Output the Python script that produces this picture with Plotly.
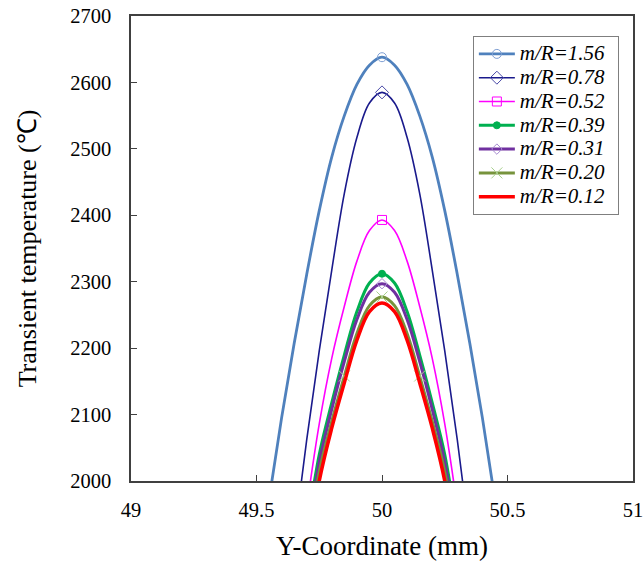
import plotly.graph_objects as go

# ---- data ----
y_coord = [49.50, 49.55, 49.60, 49.65, 49.70, 49.75, 49.80, 49.85, 49.90, 49.95, 50.00,
           50.05, 50.10, 50.15, 50.20, 50.25, 50.30, 50.35, 50.40, 50.45, 50.50]

t_156 = [1840, 1972, 2095, 2207, 2311, 2407, 2488, 2550, 2597, 2626, 2638,
         2626, 2597, 2550, 2488, 2407, 2311, 2207, 2095, 1972, 1840]
t_078 = [1440, 1600, 1760, 1913, 2062, 2196, 2318, 2433, 2517, 2569, 2585,
         2569, 2517, 2433, 2318, 2196, 2062, 1913, 1760, 1600, 1440]
t_052 = [1400, 1540, 1680, 1820, 1961, 2086, 2185, 2263, 2331, 2377, 2393,
         2377, 2331, 2263, 2185, 2086, 1961, 1820, 1680, 1540, 1400]
t_039 = [1380, 1520, 1655, 1790, 1925, 2040, 2118, 2190, 2255, 2298, 2312,
         2298, 2255, 2190, 2118, 2040, 1925, 1790, 1655, 1520, 1380]
t_031 = [1365, 1500, 1640, 1775, 1910, 2028, 2108, 2180, 2243, 2284, 2297,
         2284, 2243, 2180, 2108, 2028, 1910, 1775, 1640, 1500, 1365]
t_020 = [1350, 1485, 1625, 1760, 1895, 2014, 2090, 2158, 2222, 2264, 2277,
         2264, 2222, 2158, 2090, 2014, 1895, 1760, 1625, 1485, 1350]
t_012 = [1335, 1470, 1610, 1745, 1880, 2000, 2080, 2148, 2212, 2255, 2268,
         2255, 2212, 2148, 2080, 2000, 1880, 1745, 1610, 1470, 1335]

labels = ["m/R=1.56", "m/R=0.78", "m/R=0.52", "m/R=0.39", "m/R=0.31", "m/R=0.20", "m/R=0.12"]
series = [t_156, t_078, t_052, t_039, t_031, t_020, t_012]
# indices of the points that carry a marker
marker_idx = [[10], [10], [10], [10], [10], [7, 10, 13], []]

x_ticks = [49, 49.5, 50, 50.5, 51]
x_tick_text = ["49", "49.5", "50", "50.5", "51"]
y_ticks = [2000, 2100, 2200, 2300, 2400, 2500, 2600, 2700]

# ---- styles ----
line_colors = ["#4F81BD", "#1A1A8C", "#FF00FF", "#00B050", "#7030A0", "#77933C", "#FF0000"]
line_widths = [2.8, 1.6, 1.6, 3, 3, 3, 3.5]
m_symbols = ["circle-open", "diamond-open", "square-open", "circle", "diamond-open", "x-thin-open", None]
m_colors = ["#7F9FD3", "#4A4AA8", "#FF00FF", "#00B050", "#A68BD0", "#A8D08D", "#FF0000"]
m_sizes = [9, 10, 9, 7, 8, 11, 0]

fig = go.Figure()
for i, (lab, ys) in enumerate(zip(labels, series)):
    fig.add_trace(go.Scatter(
        x=y_coord, y=ys, mode="lines", line=dict(color=line_colors[i], width=line_widths[i], shape="spline", smoothing=1),
        showlegend=False, hoverinfo="skip"))
    mx, my = [], []
    for j in marker_idx[i]:
        if mx:
            mx.append(None); my.append(None)
        mx.append(y_coord[j]); my.append(ys[j])
    shown = '<span style="font-size:21px">' + lab + '</span>\u00a0\u00a0'
    if m_symbols[i] is None:
        fig.add_trace(go.Scatter(x=[None], y=[None], mode="lines", name=shown,
                                 line=dict(color=line_colors[i], width=line_widths[i])))
    else:
        fig.add_trace(go.Scatter(
            x=mx, y=my, mode="lines+markers", name=shown, connectgaps=False,
            line=dict(color=line_colors[i], width=line_widths[i]),
            marker=dict(symbol=m_symbols[i], size=m_sizes[i], color=m_colors[i],
                        line=dict(color=m_colors[i], width=1))))

serif = "Liberation Serif"
fig.update_layout(
    template="none",
    width=643, height=568,
    margin=dict(l=131, r=10, t=16, b=87, autoexpand=False),
    paper_bgcolor="white", plot_bgcolor="white",
    font=dict(family=serif, color="black"),
    showlegend=True,
    legend=dict(x=0.681, y=0.957, xanchor="left", yanchor="top",
                bordercolor="#7F7F7F", borderwidth=1, bgcolor="white",
                font=dict(family=serif, size=16, color="black", style="italic"),
                tracegroupgap=0, itemwidth=36),
    xaxis=dict(range=[49, 51], tickvals=x_ticks, ticktext=x_tick_text, automargin=False,
               showline=True, linecolor="#404040", linewidth=1.5, mirror=True,
               ticks="inside", ticklen=6, tickcolor="#404040", tickwidth=1.2,
               showgrid=False, zeroline=False, ticklabelstandoff=10, ticklabeloverflow="allow",
               tickfont=dict(family=serif, size=20.5, color="black"),
               title=dict(text="Y-Coordinate (mm)", font=dict(family=serif, size=27, color="black"), standoff=16)),
    yaxis=dict(range=[2000, 2700], tickvals=y_ticks, automargin=False,
               showline=True, linecolor="#404040", linewidth=1.5, mirror=True,
               ticks="inside", ticklen=6, tickcolor="#404040", tickwidth=1.2,
               showgrid=False, zeroline=False, ticklabelstandoff=14, ticklabeloverflow="allow",
               tickfont=dict(family=serif, size=20.5, color="black"),
               title=dict(text="Transient temperature (℃)", font=dict(family=serif, size=26, color="black"), standoff=26)),
)

fig.write_html("out.html", config={"displayModeBar": False},
               post_script="document.body.style.margin='0';document.body.style.padding='0';")
